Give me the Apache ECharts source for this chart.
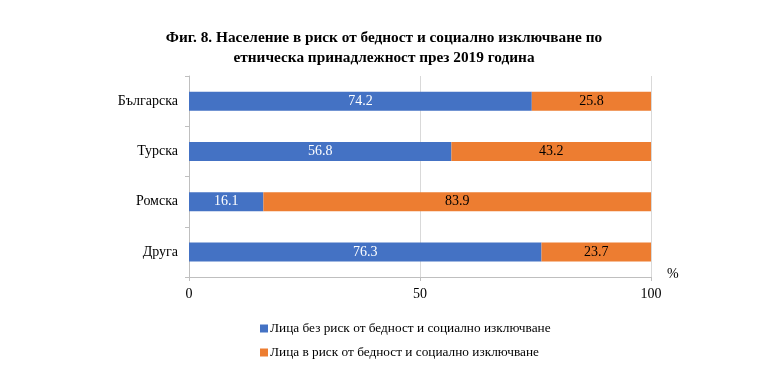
<!DOCTYPE html>
<html><head><meta charset="utf-8">
<script src="https://cdn.jsdelivr.net/npm/echarts@6/dist/echarts.min.js"></script>
<style>html,body{margin:0;padding:0;background:#fff}#c{width:768px;height:388px}</style>
</head><body><div id="c"></div>
<script>
const categories = ['Българска', 'Турска', 'Ромска', 'Друга'];
const noRisk = [74.2, 56.8, 16.1, 76.3];
const atRisk = [25.8, 43.2, 83.9, 23.7];
const xTicks = [0, 50, 100];
const seriesNames = ['Лица без риск от бедност и социално изключване', 'Лица в риск от бедност и социално изключване'];
const font = '"Liberation Serif", "Times New Roman", serif';
const chart = echarts.init(document.getElementById('c'));
chart.setOption({
  animation: false,
  textStyle: { fontFamily: font },
  title: {
    text: 'Фиг. 8. Население в риск от бедност и социално изключване по\nетническа принадлежност през 2019 година',
    left: 'center', top: 23,
    textStyle: { fontFamily: font, fontSize: 15.3, fontWeight: 'bold', color: '#000', lineHeight: 20 }
  },
  legend: {
    orient: 'vertical', left: 255, top: 317, itemGap: 11,
    itemWidth: 8, itemHeight: 8, icon: 'rect',
    textStyle: { fontFamily: font, fontSize: 13.3, color: '#000', padding: [0, 0, 0, -3] },
    data: seriesNames
  },
  grid: { left: 189, right: 117, top: 76, bottom: 111, containLabel: false },
  xAxis: {
    type: 'value', min: 0, max: 100, interval: 50,
    name: '%', nameLocation: 'end', nameGap: 16,
    nameTextStyle: { fontFamily: font, fontSize: 14, color: '#000', verticalAlign: 'bottom', padding: [0, 0, -4, 0] },
    axisLine: { show: true, lineStyle: { color: '#bfbfbf' } },
    axisTick: { show: true, length: 4, lineStyle: { color: '#bfbfbf' } },
    axisLabel: { fontFamily: font, fontSize: 14, color: '#000', margin: 10,
      formatter: v => xTicks.includes(v) ? String(v) : '' },
    splitLine: { show: true, lineStyle: { color: '#d9d9d9' } }
  },
  yAxis: {
    type: 'category', data: categories, inverse: true,
    axisLine: { show: true, lineStyle: { color: '#bfbfbf' } },
    axisTick: { show: true, length: 4, lineStyle: { color: '#bfbfbf' } },
    axisLabel: { fontFamily: font, fontSize: 14, color: '#000', margin: 11 }
  },
  series: [
    { name: seriesNames[0], type: 'bar', stack: 'a', data: noRisk, barWidth: 19,
      itemStyle: { color: '#4472C4' },
      label: { show: true, position: 'inside', color: '#fff', fontFamily: font, fontSize: 14, formatter: p => p.value.toFixed(1) } },
    { name: seriesNames[1], type: 'bar', stack: 'a', data: atRisk, barWidth: 19,
      itemStyle: { color: '#ED7D31' },
      label: { show: true, position: 'inside', color: '#000', fontFamily: font, fontSize: 14, formatter: p => p.value.toFixed(1) } }
  ]
});
</script></body></html>
